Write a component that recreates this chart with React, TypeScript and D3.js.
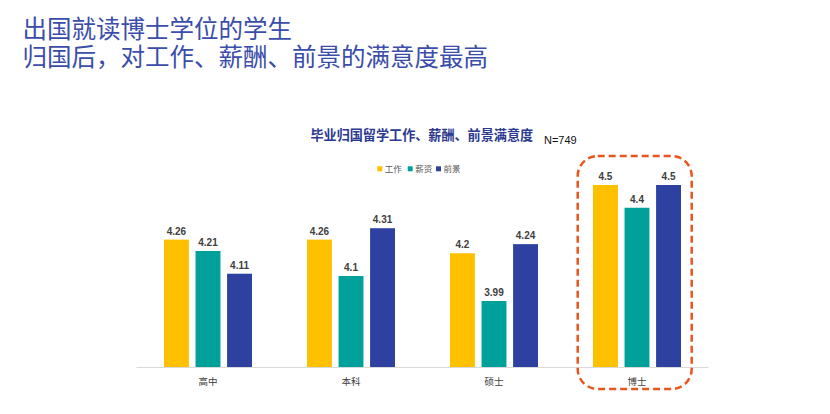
import React from "react";
import * as d3 from "d3";

const categories = ["高中", "本科", "硕士", "博士"];
const seriesNames = ["工作", "薪资", "前景"];
const workValues = [4.26, 4.26, 4.2, 4.5];
const salaryValues = [4.21, 4.1, 3.99, 4.4];
const prospectValues = [4.11, 4.31, 4.24, 4.5];
const seriesColors = ["#FFC000", "#00A19A", "#2E40A0"];
const titleLines = ["出国就读博士学位的学生", "归国后，对工作、薪酬、前景的满意度最高"];
const chartTitle = "毕业归国留学工作、薪酬、前景满意度";
const sampleNote = "N=749";
const highlightCategory = "博士";

const W = 830;
const H = 414;
const CJK = "'Noto Sans CJK SC', 'Noto Sans', sans-serif";

export default function App() {
  const seriesValues = [workValues, salaryValues, prospectValues];
  const x0 = d3.scaleBand<string>().domain(categories).range([136.5, 708.5]).paddingInner(0).paddingOuter(0);
  const x1 = d3
    .scaleBand<string>()
    .domain(seriesNames)
    .range([27.5, 115.5])
    .paddingInner(0.21)
    .paddingOuter(0);
  const y = d3.scaleLinear().domain([3.7, 4.5]).range([367, 185]);

  const hx = x0(highlightCategory)!;

  return (
    <svg width={W} height={H} style={{ position: "absolute", left: 0, top: 0, background: "#fff" }}>
      {titleLines.map((t, i) => (
        <text key={i} x={22.5} y={37.5 + i * 28} fontFamily={CJK} fontSize={24.5} fill="#3A4DAA" fontWeight={400}>
          {t}
        </text>
      ))}
      <text x={310.5} y={139.5} fontFamily={CJK} fontSize={13.1} fontWeight={700} fill="#2B3990">
        {chartTitle}
      </text>
      <text x={544} y={144} fontFamily="'Liberation Sans', Arial, sans-serif" fontSize={11} fill="#111">
        {sampleNote}
      </text>
      {seriesNames.map((s, i) => {
        const lx = [377.3, 407.7, 436][i];
        return (
          <g key={s}>
            <rect x={lx} y={166.3} width={5} height={5} fill={seriesColors[i]} />
            <text x={lx + 7.5} y={171.6} fontFamily={CJK} fontSize={8.5} fill="#595959">
              {s}
            </text>
          </g>
        );
      })}
      <line x1={136.5} x2={708.5} y1={367.5} y2={367.5} stroke="#D9D9D9" strokeWidth={1} />
      {categories.map((c, ci) => (
        <g key={c} transform={`translate(${x0(c)},0)`}>
          {seriesNames.map((s, si) => {
            const v = seriesValues[si][ci];
            const bx = x1(s)!;
            const bw = x1.bandwidth();
            return (
              <g key={s}>
                <rect x={bx} y={y(v)} width={bw} height={367 - y(v)} fill={seriesColors[si]} />
                <text
                  x={bx + bw / 2}
                  y={y(v) - 5}
                  textAnchor="middle"
                  fontFamily="'Liberation Sans', Arial, sans-serif"
                  fontWeight={700}
                  fontSize={10}
                  fill="#404040"
                >
                  {String(v)}
                </text>
              </g>
            );
          })}
          <text
            x={x0.bandwidth() / 2}
            y={385}
            textAnchor="middle"
            fontFamily={CJK}
            fontSize={9.5}
            fill="#404040"
          >
            {c}
          </text>
        </g>
      ))}
      <rect
        x={hx + 12.2}
        y={156}
        width={114}
        height={233}
        rx={20}
        ry={20}
        fill="none"
        stroke="#E8561E"
        strokeWidth={2.5}
        strokeDasharray="7,4"
      />
    </svg>
  );
}
